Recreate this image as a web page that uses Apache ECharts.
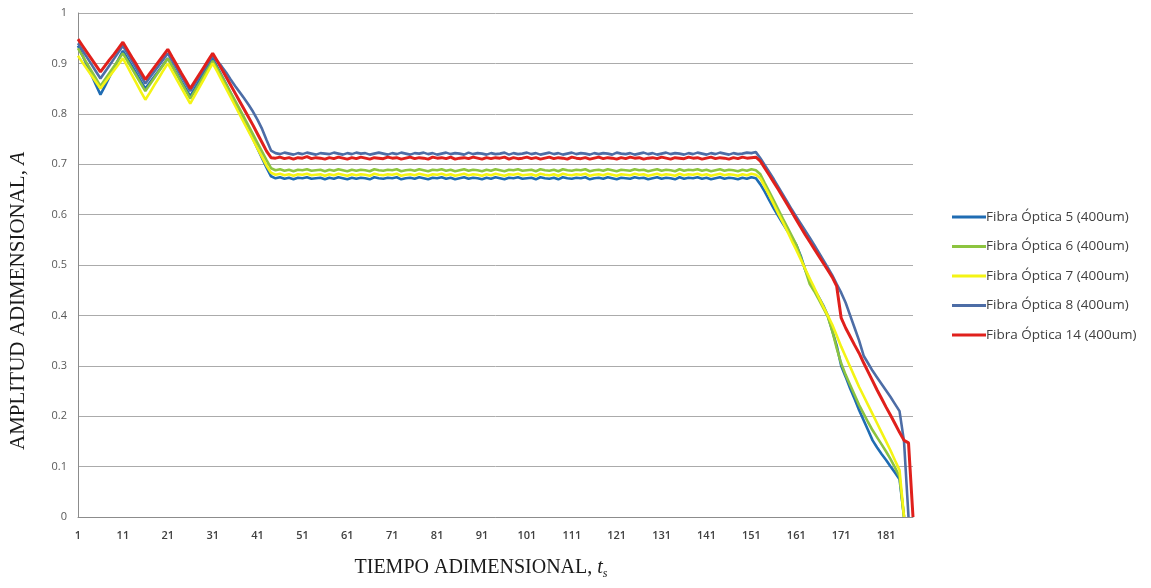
<!DOCTYPE html>
<html>
<head>
<meta charset="utf-8">
<title>Amplitud adimensional</title>
<script src="https://cdn.jsdelivr.net/npm/echarts@6/dist/echarts.min.js"></script>
<style>
    html, body { margin: 0; padding: 0; background: #fff; }
    #chart { width: 1151px; height: 588px; }
</style>
</head>
<body>
<div id="chart"></div>
<script>
// eje x: tiempo adimensional 1..187
var categories = [];
for (var c = 1; c <= 187; c++) categories.push(String(c));

var seriesNames = ['Fibra Óptica 5 (400um)', 'Fibra Óptica 6 (400um)', 'Fibra Óptica 7 (400um)', 'Fibra Óptica 8 (400um)', 'Fibra Óptica 14 (400um)'];
var seriesColors = ['#1f6cb3', '#8cc43f', '#f4f414', '#4d6da6', '#e0201c'];

var fibra5 = [
    // 1-31
    0.935,0.916,0.896,0.877,0.857,0.838,0.855,0.873,0.890,0.908,0.925,
    0.910,0.895,0.880,0.865,0.850,0.862,0.874,0.886,0.898,0.910,
    0.895,0.880,0.865,0.850,0.835,0.850,0.865,0.880,0.895,0.910,
    // 32-44
    0.893,0.876,0.859,0.841,0.823,0.805,0.787,0.768,0.750,0.731,0.712,0.693,0.676,
    // 45-152
    0.672,0.674,0.671,0.673,0.670,0.673,0.672,0.674,0.671,0.672,0.673,0.670,
    0.673,0.671,0.674,0.672,0.670,0.673,0.671,0.673,0.672,0.670,0.674,0.672,
    0.671,0.673,0.672,0.674,0.670,0.672,0.673,0.671,0.674,0.672,0.670,0.673,
    0.672,0.674,0.671,0.673,0.670,0.672,0.674,0.671,0.673,0.672,0.670,0.673,
    0.671,0.674,0.672,0.670,0.673,0.672,0.674,0.671,0.672,0.673,0.670,0.674,
    0.672,0.671,0.673,0.670,0.674,0.672,0.671,0.673,0.672,0.674,0.670,0.672,
    0.673,0.671,0.674,0.672,0.670,0.673,0.672,0.671,0.674,0.672,0.673,0.670,
    0.672,0.674,0.671,0.673,0.672,0.670,0.674,0.671,0.673,0.672,0.674,0.671,
    0.673,0.670,0.672,0.674,0.671,0.673,0.672,0.670,0.673,0.671,0.674,0.672,
    // 153-187
    0.660,0.645,0.628,0.612,0.597,0.582,0.568,0.555,0.540,0.518,0.490,0.470,0.452,0.436,0.420,0.400,0.370,
    0.340,0.300,0.278,0.255,0.234,0.212,0.192,0.172,0.152,0.138,0.125,0.113,0.100,0.088,0.075,0,null,null
];

var fibra6 = [
    0.930,0.915,0.900,0.885,0.870,0.855,0.868,0.881,0.894,0.907,0.920,
    0.905,0.890,0.875,0.860,0.845,0.858,0.871,0.884,0.897,0.910,
    0.894,0.878,0.862,0.846,0.830,0.845,0.860,0.875,0.890,0.905,
    0.890,0.874,0.858,0.842,0.826,0.810,0.793,0.776,0.759,0.742,0.725,0.708,0.692,
    0.688,0.690,0.687,0.689,0.686,0.689,0.688,0.690,0.687,0.688,0.689,0.686,
    0.689,0.687,0.690,0.688,0.686,0.689,0.687,0.689,0.688,0.686,0.690,0.688,
    0.687,0.689,0.688,0.690,0.686,0.688,0.689,0.687,0.690,0.688,0.686,0.689,
    0.688,0.690,0.687,0.689,0.686,0.688,0.690,0.687,0.689,0.688,0.686,0.689,
    0.687,0.690,0.688,0.686,0.689,0.688,0.690,0.687,0.688,0.689,0.686,0.690,
    0.688,0.687,0.689,0.686,0.690,0.688,0.687,0.689,0.688,0.690,0.686,0.688,
    0.689,0.687,0.690,0.688,0.686,0.689,0.688,0.687,0.690,0.688,0.689,0.686,
    0.688,0.690,0.687,0.689,0.688,0.686,0.690,0.687,0.689,0.688,0.690,0.687,
    0.689,0.686,0.688,0.690,0.687,0.689,0.688,0.686,0.689,0.687,0.690,0.688,
    0.680,0.662,0.645,0.628,0.610,0.592,0.575,0.558,0.540,0.515,0.490,0.462,0.448,0.432,0.415,0.398,0.370,
    0.335,0.305,0.282,0.262,0.242,0.222,0.205,0.188,0.172,0.158,0.144,0.130,0.115,0.098,0.080,0,null,null
];

var fibra7 = [
    0.915,0.902,0.889,0.876,0.863,0.850,0.862,0.874,0.886,0.898,0.910,
    0.894,0.877,0.861,0.844,0.828,0.842,0.857,0.871,0.886,0.900,
    0.884,0.868,0.852,0.836,0.820,0.836,0.852,0.868,0.884,0.900,
    0.884,0.867,0.850,0.833,0.816,0.799,0.782,0.765,0.748,0.731,0.714,0.697,0.683,
    0.679,0.681,0.678,0.680,0.677,0.680,0.679,0.681,0.678,0.679,0.680,0.677,
    0.680,0.678,0.681,0.679,0.677,0.680,0.678,0.680,0.679,0.677,0.681,0.679,
    0.678,0.680,0.679,0.681,0.677,0.679,0.680,0.678,0.681,0.679,0.677,0.680,
    0.679,0.681,0.678,0.680,0.677,0.679,0.681,0.678,0.680,0.679,0.677,0.680,
    0.678,0.681,0.679,0.677,0.680,0.679,0.681,0.678,0.679,0.680,0.677,0.681,
    0.679,0.678,0.680,0.677,0.681,0.679,0.678,0.680,0.679,0.681,0.677,0.679,
    0.680,0.678,0.681,0.679,0.677,0.680,0.679,0.678,0.681,0.679,0.680,0.677,
    0.679,0.681,0.678,0.680,0.679,0.677,0.681,0.678,0.680,0.679,0.681,0.678,
    0.680,0.677,0.679,0.681,0.678,0.680,0.679,0.677,0.680,0.678,0.681,0.679,
    0.672,0.655,0.638,0.620,0.602,0.585,0.567,0.548,0.530,0.511,0.492,0.473,0.455,0.436,0.418,0.400,0.382,
    0.360,0.338,0.318,0.298,0.278,0.258,0.240,0.222,0.204,0.186,0.168,0.150,0.132,0.112,0.093,0,null,null
];

var fibra8 = [
    0.940,0.926,0.912,0.898,0.884,0.870,0.883,0.896,0.909,0.922,0.935,
    0.920,0.905,0.890,0.875,0.860,0.872,0.884,0.896,0.908,0.920,
    0.905,0.890,0.875,0.860,0.845,0.859,0.873,0.887,0.901,0.915,
    0.905,0.894,0.882,0.868,0.855,0.843,0.831,0.818,0.804,0.788,0.770,0.748,0.727,
    0.722,0.720,0.723,0.721,0.719,0.722,0.720,0.723,0.721,0.719,0.722,0.721,
    0.720,0.723,0.721,0.719,0.722,0.720,0.723,0.721,0.722,0.719,0.721,0.723,
    0.721,0.719,0.722,0.720,0.723,0.721,0.719,0.722,0.721,0.723,0.720,0.722,
    0.719,0.721,0.723,0.720,0.722,0.721,0.719,0.723,0.720,0.722,0.721,0.719,
    0.722,0.720,0.721,0.723,0.719,0.722,0.720,0.721,0.723,0.720,0.722,0.719,
    0.721,0.723,0.720,0.722,0.719,0.721,0.723,0.720,0.722,0.721,0.719,0.722,
    0.720,0.722,0.721,0.719,0.723,0.721,0.720,0.722,0.719,0.721,0.723,0.720,
    0.722,0.719,0.721,0.723,0.720,0.722,0.721,0.719,0.722,0.720,0.723,0.721,
    0.719,0.722,0.720,0.723,0.721,0.719,0.722,0.720,0.721,0.723,0.722,0.724,
    0.712,0.698,0.684,0.670,0.655,0.640,0.625,0.610,0.596,0.582,0.568,0.554,0.540,0.525,0.510,0.495,0.480,0.462,
    0.445,0.425,0.400,0.375,0.350,0.320,0.305,0.290,0.277,0.264,0.251,0.238,0.224,0.210,0.150,0,null
];

var fibra14 = [
    0.948,0.935,0.922,0.909,0.896,0.883,0.895,0.907,0.918,0.930,0.942,
    0.927,0.912,0.898,0.883,0.868,0.880,0.892,0.904,0.916,0.928,
    0.912,0.897,0.881,0.866,0.850,0.864,0.878,0.892,0.906,0.920,
    0.905,0.889,0.873,0.857,0.841,0.825,0.809,0.793,0.777,0.760,0.743,0.726,0.713,
    0.712,0.714,0.711,0.713,0.710,0.713,0.712,0.715,0.711,0.713,0.712,0.710,
    0.713,0.711,0.714,0.712,0.710,0.713,0.711,0.714,0.712,0.710,0.713,0.712,
    0.711,0.714,0.712,0.713,0.710,0.712,0.714,0.711,0.713,0.712,0.710,0.714,
    0.712,0.713,0.711,0.714,0.710,0.712,0.713,0.711,0.714,0.712,0.710,0.713,
    0.711,0.713,0.712,0.714,0.710,0.713,0.711,0.712,0.714,0.711,0.713,0.710,
    0.712,0.714,0.711,0.713,0.712,0.710,0.714,0.712,0.711,0.713,0.710,0.712,
    0.714,0.711,0.713,0.712,0.710,0.713,0.711,0.714,0.712,0.713,0.710,0.712,
    0.713,0.711,0.714,0.712,0.710,0.713,0.712,0.711,0.714,0.712,0.713,0.710,
    0.712,0.714,0.711,0.713,0.712,0.710,0.713,0.711,0.714,0.712,0.713,0.714,
    0.706,0.692,0.678,0.664,0.650,0.635,0.620,0.605,0.590,0.575,0.560,0.546,0.532,0.518,0.504,0.490,0.476,0.458,
    0.395,0.375,0.358,0.341,0.325,0.306,0.288,0.270,0.252,0.235,0.218,0.202,0.185,0.168,0.152,0.147,0
];

var yTicks = [0, 0.1, 0.2, 0.3, 0.4, 0.5, 0.6, 0.7, 0.8, 0.9, 1];

var allData = [fibra5, fibra6, fibra7, fibra8, fibra14];

var chart = echarts.init(document.getElementById('chart'));

var series = allData.map(function (d, i) {
    return {
        name: seriesNames[i],
        type: 'line',
        data: d,
        symbol: 'none',
        smooth: false,
        connectNulls: false,
        lineStyle: { color: seriesColors[i], width: i === 4 ? 3 : 2.6 },
        itemStyle: { color: seriesColors[i] },
        z: 2 + i
    };
});

var option = {
    animation: false,
    backgroundColor: '#ffffff',
    grid: { left: 78, right: 238, top: 13, bottom: 71 },
    legend: {
        orient: 'vertical',
        left: 947,
        top: 203,
        itemWidth: 34,
        itemHeight: 3,
        itemGap: 11.5,
        icon: 'rect',
        textStyle: { fontFamily: 'Open Sans', fontSize: 13.5, lineHeight: 18, color: '#404040', padding: [0, 0, 0, -5] },
        data: seriesNames
    },
    xAxis: {
        type: 'category',
        boundaryGap: false,
        data: categories,
        axisLine: { lineStyle: { color: '#8c8c8c', width: 1 } },
        axisTick: { show: false },
        axisLabel: { interval: 9, margin: 13, fontFamily: 'Open Sans', fontSize: 11, fontWeight: 600, color: '#404040' },
        splitLine: { show: false }
    },
    yAxis: {
        type: 'value',
        min: yTicks[0],
        max: yTicks[yTicks.length - 1],
        interval: 0.1,
        axisLine: { show: true, lineStyle: { color: '#8c8c8c', width: 1 } },
        axisTick: { show: false },
        axisLabel: {
            margin: 11,
            fontFamily: 'Open Sans',
            fontSize: 11,
            color: '#595959',
            formatter: function (v) { return String(Math.round(v * 10) / 10); }
        },
        splitLine: { lineStyle: { color: '#ababab', width: 1 } }
    },
    graphic: [
        {
            type: 'text',
            x: 18,
            y: 301,
            rotation: Math.PI / 2,
            style: {
                text: '{n|AMPLITUD ADIMENSIONAL, }{i|A}',
                align: 'center',
                verticalAlign: 'middle',
                fill: '#1a1a1a',
                rich: {
                    n: { fontFamily: 'Liberation Serif', fontSize: 21, fill: '#1a1a1a' },
                    i: { fontFamily: 'Liberation Serif', fontSize: 21, fontStyle: 'italic', fill: '#1a1a1a' }
                }
            }
        },
        {
            type: 'text',
            x: 481,
            y: 568,
            style: {
                text: '{n|TIEMPO ADIMENSIONAL, }{i|t}{s|s}',
                align: 'center',
                verticalAlign: 'middle',
                fill: '#1a1a1a',
                rich: {
                    n: { fontFamily: 'Liberation Serif', fontSize: 20, fill: '#1a1a1a' },
                    i: { fontFamily: 'Liberation Serif', fontSize: 20, fontStyle: 'italic', fill: '#1a1a1a' },
                    s: { fontFamily: 'Liberation Serif', fontSize: 12, fontStyle: 'italic', fill: '#1a1a1a', padding: [12, 0, 0, 0] }
                }
            }
        }
    ],
    series: series
};

chart.setOption(option);
</script>
</body>
</html>
